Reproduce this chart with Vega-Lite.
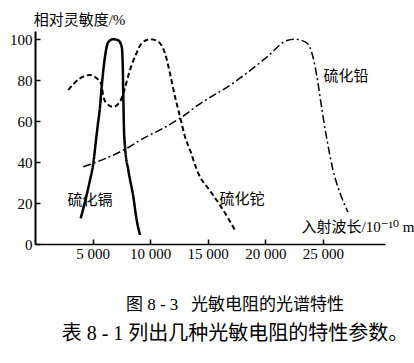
{
  "$schema": "https://vega.github.io/schema/vega-lite/v6.json",
  "width": 350,
  "height": 213,
  "autosize": "none",
  "padding": {"left": 35, "top": 31, "right": 29, "bottom": 119},
  "background": "white",
  "title": {
    "text": "图 8 - 3\u00a0\u00a0\u00a0光敏电阻的光谱特性",
    "subtitle": "表 8 - 1 列出几种光敏电阻的特性参数。",
    "orient": "bottom",
    "anchor": "middle",
    "dx": 25,
    "offset": 36,
    "font": "Liberation Serif, Noto Sans CJK SC",
    "subtitleFont": "Liberation Serif, Noto Sans CJK SC",
    "fontSize": 17,
    "subtitleFontSize": 20,
    "fontWeight": "normal",
    "color": "black",
    "subtitleColor": "black",
    "subtitlePadding": 10
  },
  "config": {
    "view": {"stroke": null},
    "axis": {
      "grid": false,
      "domainColor": "black",
      "tickColor": "black",
      "labelColor": "black",
      "titleColor": "black",
      "labelFont": "Liberation Serif",
      "labelFontSize": 15,
      "titleFont": "Liberation Serif, DejaVu Serif, Noto Sans CJK SC",
      "titleFontSize": 15,
      "titleFontWeight": "normal"
    }
  },
  "layer": [
    {
      "data": {
        "values": [
          {"s": "硫化镉", "x": 3970, "y": 12.5},
          {"s": "硫化镉", "x": 4343, "y": 20.7},
          {"s": "硫化镉", "x": 4777, "y": 31.2},
          {"s": "硫化镉", "x": 5064, "y": 39.4},
          {"s": "硫化镉", "x": 5300, "y": 50.8},
          {"s": "硫化镉", "x": 5430, "y": 57},
          {"s": "硫化镉", "x": 5646, "y": 67},
          {"s": "硫化镉", "x": 5793, "y": 76.8},
          {"s": "硫化镉", "x": 6080, "y": 91.5},
          {"s": "硫化镉", "x": 6367, "y": 98.6},
          {"s": "硫化镉", "x": 6801, "y": 100},
          {"s": "硫化镉", "x": 7235, "y": 99.4},
          {"s": "硫化镉", "x": 7530, "y": 96.3},
          {"s": "硫化镉", "x": 7617, "y": 88.2},
          {"s": "硫化镉", "x": 7670, "y": 71.9},
          {"s": "硫化镉", "x": 7730, "y": 55.7},
          {"s": "硫化镉", "x": 7817, "y": 47.5},
          {"s": "硫化镉", "x": 8104, "y": 36.1},
          {"s": "硫化镉", "x": 8538, "y": 23.1},
          {"s": "硫化镉", "x": 8833, "y": 11.7},
          {"s": "硫化镉", "x": 9120, "y": 4.4},
          {"s": "硫化铊", "x": 2893, "y": 75.2},
          {"s": "硫化铊", "x": 3909, "y": 80.9},
          {"s": "硫化铊", "x": 4777, "y": 82.5},
          {"s": "硫化铊", "x": 5359, "y": 80.9},
          {"s": "硫化铊", "x": 5793, "y": 77.6},
          {"s": "硫化铊", "x": 5932, "y": 71.9},
          {"s": "硫化铊", "x": 6367, "y": 67.9},
          {"s": "硫化铊", "x": 6801, "y": 67},
          {"s": "硫化铊", "x": 7383, "y": 69.5},
          {"s": "硫化铊", "x": 7670, "y": 73.6},
          {"s": "硫化铊", "x": 8252, "y": 85},
          {"s": "硫化铊", "x": 8686, "y": 91.5},
          {"s": "硫化铊", "x": 9268, "y": 98},
          {"s": "硫化铊", "x": 10000, "y": 100},
          {"s": "硫化铊", "x": 10710, "y": 98.8},
          {"s": "硫化铊", "x": 11292, "y": 93.1},
          {"s": "硫化铊", "x": 11726, "y": 83.3},
          {"s": "硫化铊", "x": 12161, "y": 71.9},
          {"s": "硫化铊", "x": 12595, "y": 62.2},
          {"s": "硫化铊", "x": 13030, "y": 52.4},
          {"s": "硫化铊", "x": 13464, "y": 45.9},
          {"s": "硫化铊", "x": 14185, "y": 34.5},
          {"s": "硫化铊", "x": 15200, "y": 26},
          {"s": "硫化铊", "x": 16069, "y": 19},
          {"s": "硫化铊", "x": 16765, "y": 12.7},
          {"s": "硫化铊", "x": 17370, "y": 6.8},
          {"s": "硫化铅", "x": 4195, "y": 37.7},
          {"s": "硫化铅", "x": 5064, "y": 39.4},
          {"s": "硫化铅", "x": 7965, "y": 46.7},
          {"s": "硫化铅", "x": 9407, "y": 51.6},
          {"s": "硫化铅", "x": 10858, "y": 55.7},
          {"s": "硫化铅", "x": 12595, "y": 61.4},
          {"s": "硫化铅", "x": 14185, "y": 67.9},
          {"s": "硫化铅", "x": 17217, "y": 78.6},
          {"s": "硫化铅", "x": 20150, "y": 91.3},
          {"s": "硫化铅", "x": 21890, "y": 99.4},
          {"s": "硫化铅", "x": 22580, "y": 100},
          {"s": "硫化铅", "x": 23625, "y": 98.1},
          {"s": "硫化铅", "x": 24146, "y": 91.3},
          {"s": "硫化铅", "x": 24494, "y": 81.5},
          {"s": "硫化铅", "x": 24929, "y": 65.4},
          {"s": "硫化铅", "x": 25363, "y": 50.8},
          {"s": "硫化铅", "x": 25884, "y": 36.1},
          {"s": "硫化铅", "x": 26492, "y": 24.9},
          {"s": "硫化铅", "x": 27187, "y": 15.6}
        ]
      },
      "mark": {"type": "line", "interpolate": "monotone", "color": "black"},
      "encoding": {
        "x": {
          "field": "x", "type": "quantitative",
          "scale": {"domain": [0, 30400], "nice": false, "zero": false},
          "axis": {
            "values": [5000, 10000, 15000, 20000, 25000],
            "labelExpr": "replace(format(datum.value, ','), ',', ' ')",
            "domainWidth": 1.5,
            "tickSize": -5,
            "tickWidth": 1.5,
            "labelPadding": 7,
            "title": "入射波长/10⁻¹⁰ m",
            "titleAnchor": null,
            "titleX": 266,
            "titleY": -13,
            "titleAlign": "left",
            "titleBaseline": "alphabetic"
          }
        },
        "y": {
          "field": "y", "type": "quantitative",
          "scale": {"domain": [0, 104], "nice": false},
          "axis": {
            "values": [0, 20, 40, 60, 80, 100],
            "domainWidth": 2,
            "tickSize": -5,
            "tickWidth": 1.5,
            "labelPadding": 8,
            "title": "相对灵敏度/%",
            "titleAngle": 0,
            "titleX": 44,
            "titleY": -7,
            "titleAlign": "center",
            "titleBaseline": "alphabetic"
          }
        },
        "detail": {"field": "s"},
        "strokeDash": {
          "field": "s", "type": "nominal",
          "scale": {"domain": ["硫化镉", "硫化铊", "硫化铅"], "range": [[1, 0], [5, 3], [8, 3, 2, 3]]},
          "legend": null
        },
        "strokeWidth": {
          "field": "s", "type": "nominal",
          "scale": {"domain": ["硫化镉", "硫化铊", "硫化铅"], "range": [2.5, 1.5, 1.5]},
          "legend": null
        }
      }
    },
    {
      "data": {
        "values": [
          {"label": "硫化镉", "x": 4777, "y": 21.5},
          {"label": "硫化铊", "x": 17980, "y": 22},
          {"label": "硫化铅", "x": 27020, "y": 82}
        ]
      },
      "mark": {"type": "text", "font": "Noto Sans CJK SC", "fontSize": 15, "color": "black"},
      "encoding": {
        "x": {"field": "x", "type": "quantitative"},
        "y": {"field": "y", "type": "quantitative"},
        "text": {"field": "label"}
      }
    }
  ]
}
